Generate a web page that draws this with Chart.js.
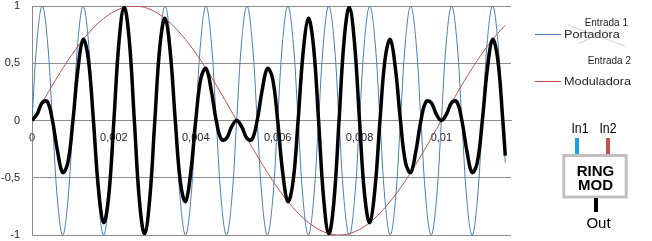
<!DOCTYPE html>
<html>
<head>
<meta charset="utf-8">
<script src="https://cdn.jsdelivr.net/npm/chart.js@4/dist/chart.umd.min.js"></script>
<style>
  html, body { margin: 0; padding: 0; background: #fff; }
  #wrap { width: 652px; height: 241px; position: relative; }
</style>
</head>
<body>
<div id="wrap"><canvas id="chart"></canvas></div>
<script>
// tiempo (s), un periodo de portadora por fila
const TIME = [
  0, 0.000125, 0.00025, 0.000375, 0.0005, 0.000625, 0.00075, 0.000875,
  0.001, 0.001125, 0.00125, 0.001375, 0.0015, 0.001625, 0.00175, 0.001875,
  0.002, 0.002125, 0.00225, 0.002375, 0.0025, 0.002625, 0.00275, 0.002875,
  0.003, 0.003125, 0.00325, 0.003375, 0.0035, 0.003625, 0.00375, 0.003875,
  0.004, 0.004125, 0.00425, 0.004375, 0.0045, 0.004625, 0.00475, 0.004875,
  0.005, 0.005125, 0.00525, 0.005375, 0.0055, 0.005625, 0.00575, 0.005875,
  0.006, 0.006125, 0.00625, 0.006375, 0.0065, 0.006625, 0.00675, 0.006875,
  0.007, 0.007125, 0.00725, 0.007375, 0.0075, 0.007625, 0.00775, 0.007875,
  0.008, 0.008125, 0.00825, 0.008375, 0.0085, 0.008625, 0.00875, 0.008875,
  0.009, 0.009125, 0.00925, 0.009375, 0.0095, 0.009625, 0.00975, 0.009875,
  0.01, 0.010125, 0.01025, 0.010375, 0.0105, 0.010625, 0.01075, 0.010875,
  0.011, 0.011125, 0.01125, 0.011375, 0.0115, 0.01156
];

// Entrada 1 — portadora
const CARRIER = [
  0, 0.707, 1, 0.707, 0, -0.707, -1, -0.707,
  0, 0.707, 1, 0.707, 0, -0.707, -1, -0.707,
  0, 0.707, 1, 0.707, 0, -0.707, -1, -0.707,
  0, 0.707, 1, 0.707, 0, -0.707, -1, -0.707,
  0, 0.707, 1, 0.707, 0, -0.707, -1, -0.707,
  0, 0.707, 1, 0.707, 0, -0.707, -1, -0.707,
  0, 0.707, 1, 0.707, 0, -0.707, -1, -0.707,
  0, 0.707, 1, 0.707, 0, -0.707, -1, -0.707,
  0, 0.707, 1, 0.707, 0, -0.707, -1, -0.707,
  0, 0.707, 1, 0.707, 0, -0.707, -1, -0.707,
  0, 0.707, 1, 0.707, 0, -0.707, -1, -0.707,
  0, 0.707, 1, 0.707, 0, -0.368
];

// Entrada 2 — moduladora
const MODULATOR = [
  0, 0.078, 0.156, 0.233, 0.309, 0.383, 0.454, 0.523,
  0.588, 0.649, 0.707, 0.760, 0.809, 0.853, 0.891, 0.924,
  0.951, 0.972, 0.988, 0.997, 1, 0.997, 0.988, 0.972,
  0.951, 0.924, 0.891, 0.853, 0.809, 0.760, 0.707, 0.649,
  0.588, 0.523, 0.454, 0.383, 0.309, 0.233, 0.156, 0.078,
  0, -0.078, -0.156, -0.233, -0.309, -0.383, -0.454, -0.523,
  -0.588, -0.649, -0.707, -0.760, -0.809, -0.853, -0.891, -0.924,
  -0.951, -0.972, -0.988, -0.997, -1, -0.997, -0.988, -0.972,
  -0.951, -0.924, -0.891, -0.853, -0.809, -0.760, -0.707, -0.649,
  -0.588, -0.523, -0.454, -0.383, -0.309, -0.233, -0.156, -0.078,
  0, 0.078, 0.156, 0.233, 0.309, 0.383, 0.454, 0.523,
  0.588, 0.649, 0.707, 0.760, 0.809, 0.831
];

// salida del ring mod
const OUTPUT = [
  0, 0.055, 0.156, 0.165, 0, -0.271, -0.454, -0.369,
  0, 0.459, 0.707, 0.538, 0, -0.603, -0.891, -0.653,
  0, 0.688, 0.988, 0.705, 0, -0.705, -0.988, -0.688,
  0, 0.653, 0.891, 0.603, 0, -0.538, -0.707, -0.459,
  0, 0.369, 0.454, 0.271, 0, -0.165, -0.156, -0.055,
  0, -0.055, -0.156, -0.165, 0, 0.271, 0.454, 0.369,
  0, -0.459, -0.707, -0.538, 0, 0.603, 0.891, 0.653,
  0, -0.688, -0.988, -0.705, 0, 0.705, 0.988, 0.688,
  0, -0.653, -0.891, -0.603, 0, 0.538, 0.707, 0.459,
  0, -0.369, -0.454, -0.271, 0, 0.165, 0.156, 0.055,
  0, 0.055, 0.156, 0.165, 0, -0.271, -0.454, -0.369,
  0, 0.459, 0.707, 0.538, 0, -0.306
];

const SERIES_NAMES = ["Portadora", "Moduladora", "Salida"];
const LEGEND_TITLES = ["Entrada 1", "Entrada 2"];
const BLOCK_LABELS = { in1: "In1", in2: "In2", top: "RING", bottom: "MOD", out: "Out" };

const X_MAX = 0.0117;
const X_STEP = 0.002;
const Y_STEP = 0.5;

const COLORS = {
  carrier: "#4A7EBB",
  modulator: "#BE4B48",
  output: "#000000",
  grid: "#8C8C8C",
  text: "#1E1E1E",
  in1: "#1BA1E2",
  in2: "#C0504D",
  box: "#BFBFBF"
};
const FONT = "'Liberation Sans', Arial, sans-serif";

const toPoints = vals => TIME.map((t, i) => ({ x: t, y: vals[i] }));
const fmtComma = v => String(+v.toFixed(4)).replace(".", ",");

// leyenda a la derecha + dibujo del bloque RING MOD
const sidePanel = {
  id: "sidePanel",
  afterDraw(chart) {
    const ctx = chart.ctx;
    ctx.save();

    // leyenda
    const entries = [
      { title: LEGEND_TITLES[0], name: SERIES_NAMES[0], color: COLORS.carrier, y: 34, titleRight: 628, titleBase: 25.5 },
      { title: LEGEND_TITLES[1], name: SERIES_NAMES[1], color: COLORS.modulator, y: 81, titleRight: 631, titleBase: 63.5 }
    ];
    entries.forEach(e => {
      ctx.strokeStyle = e.color;
      ctx.lineWidth = 1;
      ctx.beginPath();
      ctx.moveTo(535, e.y + 0.5);
      ctx.lineTo(561, e.y + 0.5);
      ctx.stroke();

      ctx.fillStyle = COLORS.text;
      ctx.font = "10px " + FONT;
      ctx.textAlign = "right";
      ctx.textBaseline = "alphabetic";
      ctx.fillText(e.title, e.titleRight, e.titleBase);

      ctx.save();
      ctx.translate(564, e.y + 4);
      ctx.scale(1.27, 1);
      ctx.textAlign = "left";
      ctx.fillText(e.name, 0, 0);
      ctx.restore();
    });
    // trazos grises tenues sobre "Portadora"
    ctx.strokeStyle = "rgba(150,150,150,0.55)";
    ctx.lineWidth = 0.8;
    ctx.beginPath();
    ctx.moveTo(568, 25); ctx.lineTo(625, 46);
    ctx.moveTo(578, 44); ctx.lineTo(608, 30);
    ctx.stroke();

    // bloque RING MOD
    ctx.fillStyle = "#000";
    ctx.font = "15px " + FONT;
    ctx.textAlign = "center";
    [[BLOCK_LABELS.in1, 580], [BLOCK_LABELS.in2, 608]].forEach(([txt, cx]) => {
      ctx.save();
      ctx.translate(cx, 133);
      ctx.scale(0.82, 1);
      ctx.fillText(txt, 0, 0);
      ctx.restore();
    });
    ctx.fillStyle = COLORS.in1;
    ctx.fillRect(575, 138, 4, 16);
    ctx.fillStyle = COLORS.in2;
    ctx.fillRect(606, 138, 4, 16);

    ctx.fillStyle = "#fff";
    ctx.fillRect(563, 155, 64, 43);
    ctx.strokeStyle = COLORS.box;
    ctx.lineWidth = 3;
    ctx.strokeRect(563.8, 155.5, 62.4, 41.5);

    ctx.fillStyle = "#000";
    ctx.font = "bold 15px " + FONT;
    ctx.fillText(BLOCK_LABELS.top, 595.5, 176);
    ctx.fillText(BLOCK_LABELS.bottom, 595.5, 190);

    ctx.fillRect(594, 198, 4, 14);
    ctx.font = "15px " + FONT;
    ctx.fillText(BLOCK_LABELS.out, 598.5, 228);

    ctx.restore();
  }
};

new Chart(document.getElementById("chart"), {
  type: "line",
  data: {
    datasets: [
      {
        label: SERIES_NAMES[2], data: toPoints(OUTPUT),
        borderColor: COLORS.output, borderWidth: 3.5, order: 0
      },
      {
        label: SERIES_NAMES[1], data: toPoints(MODULATOR),
        borderColor: COLORS.modulator, borderWidth: 1, order: 1
      },
      {
        label: SERIES_NAMES[0], data: toPoints(CARRIER),
        borderColor: COLORS.carrier, borderWidth: 1, order: 2
      }
    ]
  },
  options: {
    responsive: true,
    maintainAspectRatio: false,
    animation: false,
    layout: { padding: { left: 0, top: 6, right: 141, bottom: 6 } },
    elements: {
      point: { radius: 0, hoverRadius: 0 },
      line: { tension: 0.4, fill: false }
    },
    plugins: {
      legend: { display: false },
      tooltip: { enabled: false }
    },
    scales: {
      x: {
        type: "linear",
        min: 0, max: X_MAX,
        position: { y: 0 },
        grid: { display: false, drawTicks: false },
        border: { display: true, color: COLORS.grid },
        ticks: {
          stepSize: X_STEP, includeBounds: false, autoSkip: false, maxRotation: 0,
          padding: 11, color: COLORS.text,
          font: { family: FONT, size: 11 },
          callback: v => fmtComma(v)
        }
      },
      y: {
        min: -1, max: 1,
        grid: { color: COLORS.grid, drawTicks: false },
        border: { display: true, color: COLORS.grid },
        ticks: {
          stepSize: Y_STEP, padding: 12, color: COLORS.text,
          font: { family: FONT, size: 11 },
          callback: v => fmtComma(v)
        },
        afterFit(scale) {
          scale.width = 32;
          scale.paddingTop = 0;
          scale.paddingBottom = 0;
        }
      }
    }
  },
  plugins: [sidePanel]
});
</script>
</body>
</html>
